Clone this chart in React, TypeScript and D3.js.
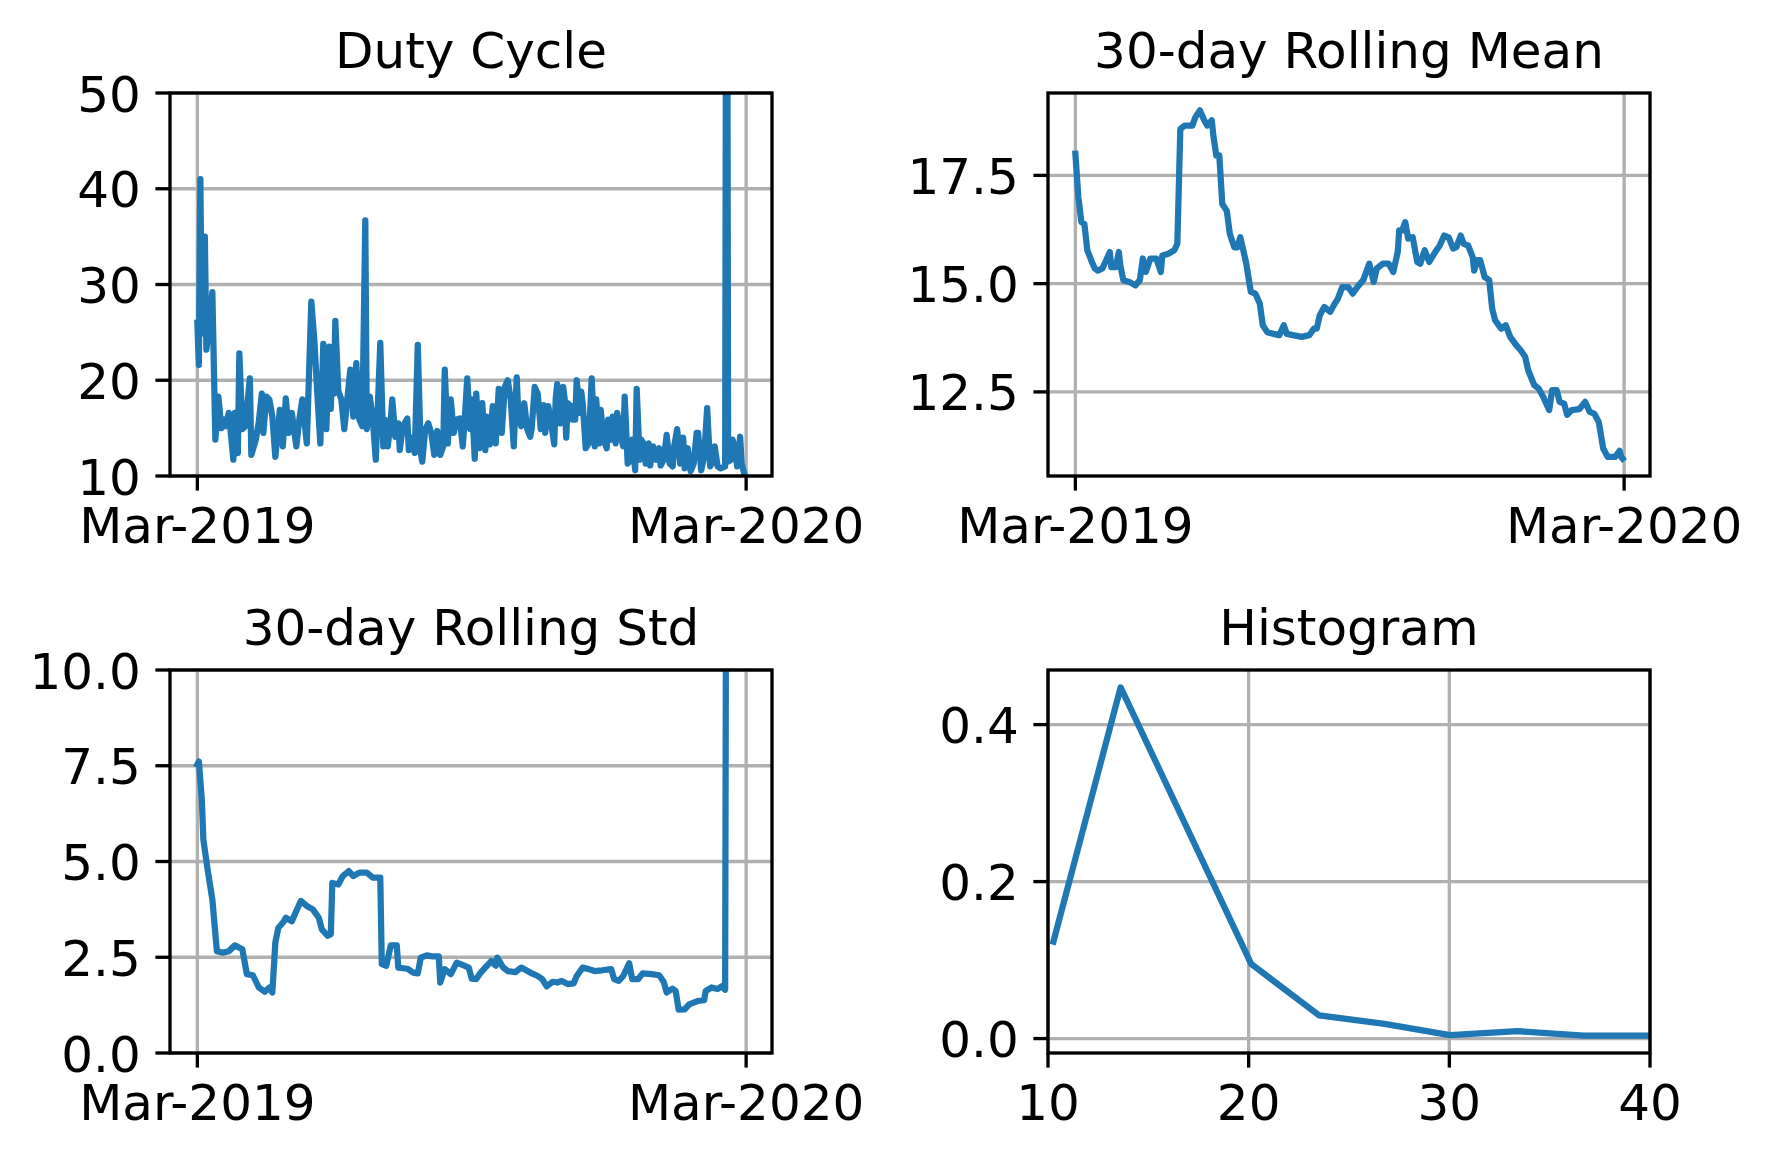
import React, { useEffect, useRef } from "react";
import * as d3 from "d3";

// day offsets are counted from 1 Mar 2019
const START = Date.UTC(2019, 2, 1);
const DAY = 86400000;

const dutyDays = [
  0, 1, 2, 3, 5, 6, 8, 10, 12, 14, 16, 18, 19, 21, 24, 25, 27, 28, 30, 32, 35, 36, 39, 41, 43, 44, 46, 48, 50,
  52, 55, 57, 59, 61, 63, 66, 68, 70, 73, 76, 78, 80, 82, 84, 86, 88, 89, 90, 91, 92, 94, 96, 98, 100, 102, 104,
  106, 108, 110, 112, 113, 115, 117, 119, 122, 124, 125, 127, 129, 130, 132, 134, 135, 137, 140, 141, 143, 145,
  147, 149, 150, 152, 154, 156, 158, 160, 162, 164, 165, 167, 169, 171, 173, 175, 177, 178, 180, 182, 183, 185,
  186, 188, 190, 192, 193, 195, 197, 199, 201, 203, 205, 207, 209, 211, 213, 214, 216, 218, 220, 222, 223, 225,
  227, 229, 231, 232, 234, 236, 238, 239, 240, 242, 244, 245, 246, 247, 249, 250, 252, 253, 255, 256, 257, 259,
  261, 263, 265, 266, 268, 269, 271, 273, 274, 276, 277, 279, 280, 282, 284, 285, 287, 289, 290, 292, 293, 295,
  296, 298, 299, 301, 302, 304, 306, 308, 309, 311, 313, 315, 317, 318, 320, 322, 324, 325, 327, 329, 331, 333,
  334, 336, 338, 340, 342, 343, 345, 347, 349, 352, 353, 354, 356, 357, 359, 360, 362, 363, 365,
];
const dutyValues = [
  26.0, 21.6, 41.0, 24.9, 35.0, 23.2, 25.9, 29.2, 13.8, 18.3, 15.0, 15.9, 15.2, 16.6, 11.7, 16.6, 12.4, 22.8,
  14.9, 15.2, 20.2, 12.2, 13.8, 15.7, 18.6, 14.5, 18.3, 18.0, 16.2, 12.0, 16.9, 13.1, 18.1, 14.5, 16.6, 13.1,
  15.9, 18.0, 13.4, 28.2, 24.2, 18.6, 13.4, 23.8, 14.9, 23.5, 17.0, 23.0, 18.6, 26.2, 18.9, 18.0, 14.9, 18.0,
  21.1, 16.2, 21.8, 15.9, 15.2, 36.7, 14.9, 18.3, 15.9, 11.7, 23.9, 13.1, 15.9, 13.1, 15.9, 18.0, 14.1, 15.5,
  12.7, 15.2, 16.0, 12.7, 14.0, 12.4, 23.7, 12.4, 11.5, 14.9, 15.5, 14.5, 12.2, 14.7, 12.2, 13.1, 21.1, 13.4,
  18.0, 14.5, 15.9, 16.0, 13.1, 15.2, 20.2, 14.9, 18.0, 11.8, 18.6, 12.9, 17.6, 12.7, 16.2, 13.3, 17.3, 13.4,
  19.1, 14.5, 19.3, 20.0, 18.0, 13.1, 20.3, 16.6, 15.2, 17.6, 14.9, 14.1, 15.0, 19.3, 18.6, 14.9, 17.4, 14.5,
  17.3, 15.5, 13.3, 18.1, 19.6, 15.5, 19.3, 18.0, 14.0, 17.6, 17.3, 15.9, 15.9, 20.0, 16.6, 18.8, 17.6, 12.9,
  13.4, 20.2, 13.1, 18.0, 13.4, 16.9, 13.8, 12.9, 15.9, 13.8, 16.2, 13.4, 16.6, 14.5, 13.1, 18.3, 11.3, 11.7,
  13.8, 10.6, 19.1, 11.7, 13.8, 13.3, 11.3, 13.4, 11.1, 13.1, 11.7, 12.9, 11.1, 11.7, 14.3, 11.3, 11.0, 13.1,
  14.9, 11.3, 14.0, 10.8, 12.9, 10.5, 11.3, 14.5, 14.5, 10.6, 12.0, 17.1, 11.0, 11.3, 13.1, 11.0, 10.8, 11.0,
  100.0, 11.5, 11.7, 13.8, 12.4, 11.0, 14.1, 11.3, 10.1,
];

const meanDays = [
  0, 2, 4, 6, 8, 11, 13, 15, 18, 20, 23, 24, 27, 29, 30, 32, 36, 40, 43, 45, 47, 50, 54, 57, 58, 62, 66, 68, 70,
  73, 78, 80, 83, 86, 88, 91, 92, 94, 96, 98, 101, 103, 106, 108, 110, 112, 114, 117, 120, 123, 125, 128, 132,
  136, 139, 141, 145, 151, 156, 159, 161, 163, 166, 170, 173, 175, 178, 182, 185, 188, 192, 196, 199, 201, 205,
  209, 212, 215, 216, 218, 220, 222, 225, 228, 230, 233, 236, 240, 243, 246, 249, 252, 254, 257, 259, 262, 265,
  266, 268, 270, 273, 276, 278, 280, 284, 287, 290, 294, 297, 300, 302, 306, 309, 312, 316, 318, 321, 323, 326,
  328, 331, 336, 340, 343, 346, 349, 350, 352, 355, 360, 363, 364, 365,
];
const meanValues = [
  18.0, 17.0, 16.42, 16.38, 15.77, 15.5, 15.35, 15.3, 15.35, 15.5, 15.73, 15.38, 15.38, 15.73, 15.42, 15.08,
  15.04, 14.96, 15.08, 15.58, 15.27, 15.58, 15.58, 15.27, 15.65, 15.69, 15.77, 15.92, 18.57, 18.65, 18.65,
  18.84, 19.0, 18.77, 18.65, 18.77, 18.42, 17.96, 17.96, 16.84, 16.68, 16.15, 15.84, 15.84, 16.07, 15.77, 15.46,
  14.81, 14.77, 14.54, 14.04, 13.88, 13.84, 13.81, 14.04, 13.84, 13.81, 13.77, 13.81, 13.96, 13.96, 14.27,
  14.46, 14.35, 14.54, 14.65, 14.92, 14.92, 14.77, 14.92, 15.08, 15.46, 15.04, 15.35, 15.46, 15.46, 15.27,
  15.73, 16.23, 16.23, 16.42, 16.04, 16.07, 15.5, 15.46, 15.77, 15.5, 15.73, 15.88, 16.11, 16.07, 15.81, 15.84,
  16.11, 15.92, 15.88, 15.61, 15.3, 15.54, 15.54, 15.15, 15.08, 14.42, 14.15, 13.96, 14.04, 13.77, 13.58,
  13.46, 13.31, 13.0, 12.66, 12.58, 12.39, 12.08, 12.54, 12.54, 12.27, 12.23, 11.97, 12.08, 12.1, 12.27, 12.04,
  12.0, 11.81, 11.62, 11.2, 11.0, 11.0, 11.14, 11.0, 10.96,
];

const stdDays = [
  0, 1, 3, 4, 7, 10, 13, 17, 21, 25, 30, 33, 37, 41, 45, 48, 50, 52, 54, 57, 59, 63, 66, 69, 73, 77, 81, 83, 87,
  89, 90, 94, 97, 101, 104, 108, 113, 117, 122, 123, 126, 129, 133, 134, 140, 144, 147, 149, 153, 157, 161,
  162, 165, 169, 173, 178, 181, 183, 186, 189, 192, 196, 199, 200, 204, 207, 212, 216, 222, 227, 230, 233, 237,
  240, 243, 247, 251, 253, 257, 261, 265, 270, 276, 278, 281, 284, 288, 290, 294, 297, 303, 308, 311, 313, 317,
  319, 321, 325, 328, 334, 338, 339, 343, 347, 350, 352, 353, 365,
];
const stdValues = [
  7.53, 7.61, 6.6, 5.57, 4.75, 4.01, 2.66, 2.62, 2.66, 2.81, 2.71, 2.06, 2.03, 1.71, 1.6, 1.71, 1.58, 2.88, 3.27,
  3.4, 3.53, 3.44, 3.71, 3.97, 3.84, 3.75, 3.53, 3.23, 3.06, 3.1, 4.44, 4.4, 4.62, 4.75, 4.62, 4.71, 4.71, 4.58,
  4.58, 2.32, 2.28, 2.81, 2.81, 2.23, 2.2, 2.1, 2.08, 2.49, 2.55, 2.52, 2.52, 1.84, 2.19, 2.06, 2.36, 2.28, 2.23,
  1.94, 1.93, 2.1, 2.23, 2.4, 2.28, 2.49, 2.23, 2.14, 2.11, 2.23, 2.1, 2.01, 1.93, 1.74, 1.86, 1.84, 1.88, 1.8,
  1.82, 2.01, 2.23, 2.19, 2.14, 2.16, 2.19, 1.93, 1.88, 2.01, 2.34, 1.93, 1.93, 2.08, 2.06, 2.03, 1.86, 1.58,
  1.68, 1.62, 1.13, 1.14, 1.27, 1.36, 1.38, 1.62, 1.71, 1.67, 1.75, 1.65, 19.8, 19.2,
];

const histCenters = [10.27, 13.62, 20.13, 23.52, 26.77, 30.03, 33.4, 36.7, 40.0];
const histDensity = [0.1236, 0.4474, 0.0949, 0.0295, 0.0188, 0.0043, 0.0094, 0.0038, 0.0038];

const dateTicks = [Date.UTC(2019, 2, 1), Date.UTC(2020, 2, 1)];
const dutyTicks = [10, 20, 30, 40, 50];
const meanTicks = [12.5, 15.0, 17.5];
const stdTicks = [0, 2.5, 5.0, 7.5, 10.0];
const histYTicks = [0.0, 0.2, 0.4];
const histXTicks = [10, 20, 30, 40];

const W = 1772;
const H = 1160;
const FONT = "DejaVu Sans";
const FS = 50;
const TICK = 14.6;
const PAD = 14.6;
const BLUE = "#1f77b4";
const GRID = "#b0b0b0";

type Panel = {
  id: string;
  title: string;
  x0: number;
  x1: number;
  y0: number;
  y1: number;
  x: (v: number) => number;
  y: (v: number) => number;
  xTicks: number[];
  xFmt: (v: number) => string;
  yTicks: number[];
  yFmt: (v: number) => string;
  pts: [number, number][];
};

function withMargin(ext: [number, number]): [number, number] {
  const m = (ext[1] - ext[0]) * 0.05;
  return [ext[0] - m, ext[1] + m];
}

function drawPanel(svg: d3.Selection<SVGSVGElement, unknown, null, undefined>, p: Panel) {
  const g = svg.append("g");

  g.append("clipPath")
    .attr("id", "clip-" + p.id)
    .append("rect")
    .attr("x", p.x0)
    .attr("y", p.y0)
    .attr("width", p.x1 - p.x0)
    .attr("height", p.y1 - p.y0);

  // grid
  p.xTicks.forEach((t) => {
    g.append("line")
      .attr("x1", p.x(t)).attr("x2", p.x(t))
      .attr("y1", p.y0).attr("y2", p.y1)
      .attr("stroke", GRID).attr("stroke-width", 3.33);
  });
  p.yTicks.forEach((t) => {
    g.append("line")
      .attr("x1", p.x0).attr("x2", p.x1)
      .attr("y1", p.y(t)).attr("y2", p.y(t))
      .attr("stroke", GRID).attr("stroke-width", 3.33);
  });

  // data line
  const line = d3.line<[number, number]>().x((d) => p.x(d[0])).y((d) => p.y(d[1]));
  g.append("path")
    .datum(p.pts)
    .attr("clip-path", `url(#clip-${p.id})`)
    .attr("fill", "none")
    .attr("stroke", BLUE)
    .attr("stroke-width", 6.25)
    .attr("stroke-linejoin", "round")
    .attr("stroke-linecap", "square")
    .attr("d", line);

  // spines
  g.append("rect")
    .attr("x", p.x0).attr("y", p.y0)
    .attr("width", p.x1 - p.x0).attr("height", p.y1 - p.y0)
    .attr("fill", "none").attr("stroke", "#000").attr("stroke-width", 3.33);

  // ticks + labels
  p.xTicks.forEach((t) => {
    const xx = p.x(t);
    g.append("line")
      .attr("x1", xx).attr("x2", xx)
      .attr("y1", p.y1).attr("y2", p.y1 + TICK)
      .attr("stroke", "#000").attr("stroke-width", 3.33);
    g.append("text")
      .attr("x", xx)
      .attr("y", p.y1 + TICK + PAD + 38)
      .attr("text-anchor", "middle")
      .text(p.xFmt(t));
  });
  p.yTicks.forEach((t) => {
    const yy = p.y(t);
    g.append("line")
      .attr("x1", p.x0 - TICK).attr("x2", p.x0)
      .attr("y1", yy).attr("y2", yy)
      .attr("stroke", "#000").attr("stroke-width", 3.33);
    g.append("text")
      .attr("x", p.x0 - TICK - PAD)
      .attr("y", yy + 18.5)
      .attr("text-anchor", "end")
      .text(p.yFmt(t));
  });

  g.append("text")
    .attr("x", (p.x0 + p.x1) / 2)
    .attr("y", p.y0 - 25)
    .attr("text-anchor", "middle")
    .text(p.title);
}

const App: React.FC = () => {
  const ref = useRef<SVGSVGElement | null>(null);

  useEffect(() => {
    if (!ref.current) return;
    const svg = d3.select(ref.current);
    svg.selectAll("*").remove();
    svg.attr("font-family", FONT).attr("font-size", FS).attr("fill", "#000");

    const L = { x0: 170, x1: 772 };
    const R = { x0: 1048, x1: 1650 };
    const T = { y0: 93, y1: 476 };
    const B = { y0: 670, y1: 1053 };

    const toT = (d: number) => START + d * DAY;
    const fmt = d3.utcFormat("%b-%Y");
    const dateFmt = (v: number) => fmt(new Date(v));

    const timeScale = (days: number[], x0: number, x1: number) => {
      const dom = withMargin([toT(d3.min(days)!), toT(d3.max(days)!)]);
      const s = d3.scaleUtc().domain([new Date(dom[0]), new Date(dom[1])]).range([x0, x1]);
      return (v: number) => s(new Date(v));
    };

    // Duty cycle
    const dutyX = timeScale(dutyDays, L.x0, L.x1);
    const dutyY = d3.scaleLinear().domain([10, 50]).range([T.y1, T.y0]);
    drawPanel(svg, {
      id: "duty", title: "Duty Cycle", ...L, ...T,
      x: dutyX, y: dutyY,
      xTicks: dateTicks, xFmt: dateFmt,
      yTicks: dutyTicks, yFmt: (v) => d3.format("d")(v),
      pts: dutyDays.map((d, i) => [toT(d), dutyValues[i]] as [number, number]),
    });

    // Rolling mean
    const meanX = timeScale(meanDays, R.x0, R.x1);
    const meanY = d3.scaleLinear()
      .domain(withMargin(d3.extent(meanValues) as [number, number]))
      .range([T.y1, T.y0]);
    drawPanel(svg, {
      id: "mean", title: "30-day Rolling Mean", ...R, ...T,
      x: meanX, y: meanY,
      xTicks: dateTicks, xFmt: dateFmt,
      yTicks: meanTicks, yFmt: (v) => d3.format(".1f")(v),
      pts: meanDays.map((d, i) => [toT(d), meanValues[i]] as [number, number]),
    });

    // Rolling std
    const stdX = timeScale(dutyDays, L.x0, L.x1);
    const stdY = d3.scaleLinear().domain([0, 10]).range([B.y1, B.y0]);
    drawPanel(svg, {
      id: "std", title: "30-day Rolling Std", ...L, ...B,
      x: stdX, y: stdY,
      xTicks: dateTicks, xFmt: dateFmt,
      yTicks: stdTicks, yFmt: (v) => d3.format(".1f")(v),
      pts: stdDays.map((d, i) => [toT(d), stdValues[i]] as [number, number]),
    });

    // Histogram
    const hx = d3.scaleLinear().domain([10, 40]).range([R.x0, R.x1]);
    const hy = d3.scaleLinear()
      .domain(withMargin(d3.extent(histDensity) as [number, number]))
      .range([B.y1, B.y0]);
    drawPanel(svg, {
      id: "hist", title: "Histogram", ...R, ...B,
      x: hx, y: hy,
      xTicks: histXTicks, xFmt: (v) => d3.format("d")(v),
      yTicks: histYTicks, yFmt: (v) => d3.format(".1f")(v),
      pts: histCenters.map((c, i) => [c, histDensity[i]] as [number, number]),
    });
  }, []);

  return (
    <div style={{ position: "absolute", left: 0, top: 0, background: "#fff" }}>
      <svg ref={ref} width={W} height={H} style={{ display: "block", background: "#fff" }} />
    </div>
  );
};

export default App;
